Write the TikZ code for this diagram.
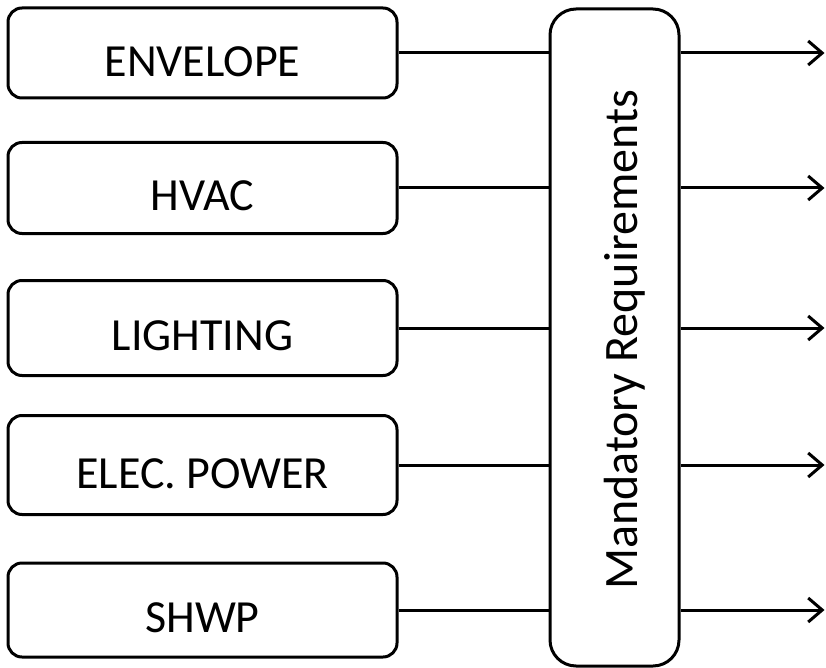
\documentclass[tikz,border=0pt]{standalone}
\usepackage{fontspec}
\setmainfont{Carlito}
\usetikzlibrary{arrows.meta,calc}
\begin{document}
\begin{tikzpicture}[x=1pt,y=-1pt,
  catbox/.style={draw,line width=3pt,rounded corners=14pt,minimum width=389pt,inner sep=0pt,anchor=center},
  cattext/.style={inner sep=0pt,font=\fontsize{46}{50}\selectfont,text height=30pt,text depth=0pt,anchor=center},
  conn/.style={line width=3pt},
  outarrow/.style={line width=3pt,-{Straight Barb[length=14pt,width=24pt,line width=3pt]}}]
\useasboundingbox (0,0) rectangle (826,668);
\node[catbox,minimum height=90pt] (b1) at (202.5,53) {};
\node[catbox,minimum height=91pt] (b2) at (202.5,188) {};
\node[catbox,minimum height=95pt] (b3) at (202.5,328) {};
\node[catbox,minimum height=99pt] (b4) at (202.5,465) {};
\node[catbox,minimum height=94pt] (b5) at (202.5,610) {};
\node[cattext] (t1) at ([yshift=-9pt]b1.center) {ENVELOPE};
\node[cattext] (t2) at ([yshift=-7.5pt]b2.center) {HVAC};
\node[cattext] (t3) at ([yshift=-7pt]b3.center) {LIGHTING};
\node[cattext] (t4) at ([yshift=-8pt]b4.center) {ELEC. POWER};
\node[cattext] (t5) at ([yshift=-7.5pt]b5.center) {SHWP};
\node[draw,line width=3pt,rounded corners=26pt,inner sep=0pt,minimum width=129pt,minimum height=657pt] (m) at (614.5,337.5) {};
\node[rotate=90,inner sep=0pt,font=\fontsize{48}{52}\selectfont,text height=31pt,text depth=0pt,anchor=center] (mt) at (622,340) {Mandatory Requirements};
\foreach \i in {1,...,5} {
  \draw[conn] (b\i.east) -- (b\i.east -| m.west);
  \coordinate (e\i) at ($(b\i.east -| m.east)+(144,0)$);
  \draw[outarrow] (b\i.east -| m.east) -- (e\i);
}
\end{tikzpicture}
\end{document}
